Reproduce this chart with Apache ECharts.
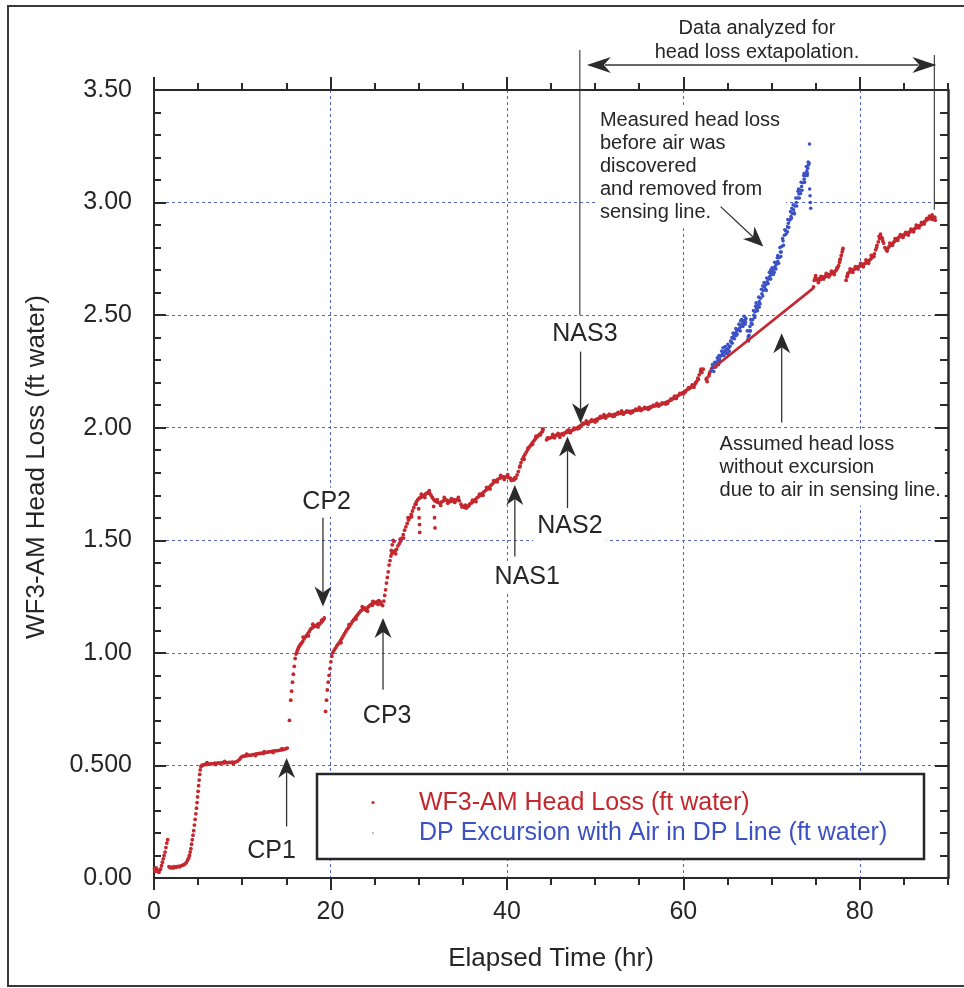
<!DOCTYPE html>
<html>
<head>
<meta charset="utf-8">
<script src="https://cdn.jsdelivr.net/npm/echarts@6/dist/echarts.min.js"></script>
<style>
  html, body { margin: 0; padding: 0; background: #fff; }
  #chart { width: 964px; height: 988px; }
</style>
</head>
<body>
<div id="chart"></div>
<script>
// ---- Tick labels ----
const xTickLabels = ['0', '20', '40', '60', '80'];
const yTickLabels = ['0.00', '0.500', '1.00', '1.50', '2.00', '2.50', '3.00', '3.50'];

// ---- WF3-AM head loss [elapsed hr, ft water], logged segments ----
const wf3Startup = [
  [0.05,0.04],[0.15,0.03],[0.25,0.045],[0.35,0.035],[0.45,0.03],[0.55,0.025],[0.65,0.035],[0.75,0.04],
  [0.85,0.055],[0.95,0.07],[1.05,0.085],[1.15,0.1],[1.25,0.115],[1.35,0.135],[1.45,0.155],[1.55,0.17],
  [1.7,0.05],[1.85,0.045],[2.0,0.048],[2.15,0.044],[2.3,0.05],[2.45,0.047],[2.6,0.05],[2.75,0.052],
  [2.9,0.05],[3.05,0.054],[3.2,0.056],[3.35,0.058],[3.5,0.062],[3.65,0.068],[3.8,0.078],[3.92,0.088],
  [4.02,0.1],[4.1,0.115],[4.18,0.13],[4.26,0.15],[4.34,0.17],[4.42,0.19],[4.5,0.21],[4.58,0.235],
  [4.66,0.26],[4.74,0.285],[4.82,0.31],[4.88,0.335],[4.94,0.36],[5.0,0.385],[5.06,0.41],[5.12,0.435],
  [5.18,0.46],[5.24,0.48],[5.32,0.495],[5.42,0.5]
];
const wf3Cp1 = [
  [5.5,0.5],[5.65,0.503],[5.8,0.505],[5.95,0.504],[6.1,0.507],[6.3,0.506],[6.5,0.508],[6.7,0.507],
  [6.9,0.51],[7.1,0.509],[7.3,0.511],[7.5,0.51],[7.7,0.512],[7.9,0.511],[8.1,0.513],[8.3,0.512],
  [8.5,0.514],[8.7,0.513],[8.9,0.515],[9.1,0.514],[9.3,0.516],[9.5,0.52],[9.7,0.527],[9.85,0.535],
  [10.0,0.54],[10.2,0.541],[10.4,0.543],[10.6,0.544],[10.8,0.546],[11.0,0.545],[11.2,0.548],[11.4,0.549],
  [11.6,0.551],[11.8,0.552],[12.0,0.553],[12.2,0.555],[12.4,0.554],[12.6,0.557],[12.8,0.558],[13.0,0.56],
  [13.2,0.561],[13.4,0.562],[13.6,0.564],[13.8,0.565],[14.0,0.566],[14.2,0.567],[14.4,0.569],[14.6,0.57],
  [14.8,0.572],[15.0,0.575],[15.1,0.577],
  [6.0,0.512],[7.0,0.504],[8.0,0.518],[9.0,0.509],[10.5,0.55],[11.5,0.544],[12.5,0.561],[13.5,0.557],[14.5,0.575]
];
const wf3Cp2 = [
  [15.35,0.70],[15.5,0.79],[15.6,0.83],[15.7,0.87],[15.8,0.905],[15.9,0.94],[16.0,0.975],[16.1,0.995],
  [16.2,1.005],[16.3,1.015],[16.4,1.025],[16.5,1.03],[16.6,1.038],[16.7,1.042],[16.85,1.05],[17.0,1.062],
  [17.15,1.07],[17.3,1.078],[17.45,1.085],[17.6,1.095],[17.75,1.105],[17.9,1.11],[18.05,1.115],[18.2,1.12],
  [18.35,1.118],[18.5,1.125],[18.65,1.13],[18.8,1.128],[18.95,1.135],[19.1,1.142],[19.2,1.148],[19.3,1.155],
  [16.9,1.07],[17.5,1.075],[18.0,1.127],[18.6,1.115],[19.0,1.145]
];
const wf3Cp3 = [
  [19.45,0.74],[19.55,0.79],[19.65,0.835],[19.75,0.87],[19.85,0.9],[19.95,0.93],[20.05,0.96],[20.15,0.985],
  [20.25,1.0],[20.4,1.01],[20.55,1.02],[20.7,1.03],[20.85,1.038],[21.0,1.045],[21.15,1.055],[21.3,1.065],
  [21.45,1.075],[21.6,1.085],[21.75,1.095],[21.9,1.105],[22.05,1.112],[22.2,1.12],[22.35,1.13],[22.5,1.14],
  [22.65,1.148],[22.8,1.155],[22.95,1.163],[23.1,1.17],[23.25,1.178],[23.4,1.185],[23.55,1.19],[23.7,1.196],
  [23.85,1.2],[24.0,1.19],[24.15,1.198],[24.3,1.205],[24.45,1.21],[24.6,1.215],[24.75,1.212],[24.9,1.22],
  [25.05,1.225],[25.2,1.222],[25.35,1.228],[25.5,1.232],[25.65,1.226],[25.8,1.215],[25.92,1.21],
  [21.2,1.045],[22.1,1.125],[22.9,1.15],[23.6,1.205],[24.2,1.185],[24.8,1.228],[25.4,1.215]
];
const wf3Nas = [
  [26.05,1.23],[26.15,1.255],[26.25,1.28],[26.35,1.31],[26.45,1.335],[26.55,1.36],[26.65,1.39],[26.75,1.41],
  [26.85,1.43],[26.95,1.44],[27.05,1.445],[27.2,1.45],[27.35,1.455],[27.5,1.46],[27.65,1.475],[27.8,1.485],
  [27.95,1.495],[28.1,1.51],[28.25,1.525],[28.4,1.545],[28.55,1.56],[28.7,1.575],[28.85,1.59],[29.0,1.6],
  [29.15,1.615],[29.3,1.63],[29.45,1.645],[29.6,1.66],[29.75,1.672],[29.9,1.68],[30.05,1.687],[30.2,1.69],
  [30.35,1.693],[30.5,1.697],[30.65,1.7],[30.8,1.706],[30.95,1.71],[31.1,1.712],[31.25,1.708],[31.4,1.7],
  [31.55,1.69],[31.7,1.682],[31.85,1.675],[32.0,1.672],[32.2,1.668],[32.4,1.665],[32.6,1.67],[32.8,1.675],
  [33.0,1.68],[33.2,1.678],[33.4,1.675],[33.6,1.672],[33.8,1.675],[34.0,1.68],[34.2,1.678],[34.4,1.68],
  [34.6,1.676],[34.8,1.66],[35.0,1.652],[35.2,1.646],[35.4,1.643],[35.6,1.65],[35.8,1.662],[36.0,1.666],
  [36.2,1.672],[36.4,1.68],[36.6,1.688],[36.8,1.694],[37.0,1.7],[37.2,1.708],[37.4,1.715],[37.6,1.722],
  [37.8,1.728],[38.0,1.736],[38.2,1.745],[38.4,1.752],[38.6,1.76],[38.8,1.766],[39.0,1.772],[39.2,1.776],
  [39.4,1.779],[39.6,1.781],[39.8,1.78],[40.0,1.783],[40.2,1.778],[40.4,1.776],[40.6,1.77],[40.8,1.768],
  [41.0,1.775],[41.15,1.79],[41.3,1.805],[41.45,1.825],[41.6,1.845],[41.75,1.86],[41.9,1.872],[42.05,1.882],
  [42.2,1.892],[42.35,1.902],[42.5,1.912],[42.65,1.92],[42.8,1.928],[42.95,1.936],[43.1,1.944],[43.25,1.952],
  [43.4,1.958],[43.55,1.965],[43.7,1.97],[43.85,1.976],[44.0,1.982],[44.1,1.99],
  [27.0,1.48],[27.1,1.5],[27.2,1.495],[30.0,1.64],[30.05,1.6],[30.1,1.57],[30.12,1.535],
  [31.7,1.65],[31.8,1.6],[31.85,1.555],
  [26.9,1.455],[27.4,1.44],[27.9,1.505],[28.3,1.51],[28.8,1.6],[29.2,1.605],[29.7,1.66],[30.3,1.705],
  [30.7,1.69],[31.2,1.72],[32.1,1.68],[32.5,1.655],[32.9,1.69],[33.3,1.665],[33.7,1.685],[34.1,1.668],
  [34.5,1.69],[34.9,1.648],[35.3,1.656],[35.7,1.655],[36.1,1.678],[36.5,1.672],[36.9,1.705],[37.3,1.7],
  [37.7,1.735],[38.1,1.728],[38.5,1.765],[38.9,1.76],[39.3,1.788],[39.7,1.77],[40.1,1.792],[40.5,1.766],
  [40.9,1.778],[41.5,1.83],[41.95,1.86],[42.4,1.91],[42.9,1.925],[43.3,1.962],[43.8,1.968],[44.05,1.995]
];
const wf3Late = [
  [44.5,1.946],[44.7,1.952],[44.9,1.955],[45.1,1.958],[45.3,1.962],[45.5,1.965],[45.7,1.968],[45.9,1.966],
  [46.1,1.97],[46.3,1.974],[46.5,1.976],[46.7,1.978],[46.9,1.98],[47.1,1.983],[47.3,1.987],[47.5,1.99],
  [47.7,1.994],[47.9,1.998],[48.1,2.003],[48.3,2.008],[48.5,2.012],[48.7,2.016],[48.9,2.02],[49.1,2.022],
  [49.3,2.025],[49.5,2.028],[49.7,2.03],[49.9,2.033],[50.1,2.036],[50.3,2.04],[50.5,2.042],[50.7,2.045],
  [50.9,2.047],[51.1,2.05],[51.3,2.051],[51.5,2.053],[51.7,2.055],[51.9,2.056],[52.1,2.058],[52.3,2.06],
  [52.5,2.061],[52.7,2.063],[52.9,2.064],[53.1,2.066],[53.3,2.067],[53.5,2.069],[53.7,2.07],[53.9,2.072],
  [54.1,2.073],[54.3,2.075],[54.5,2.076],[54.7,2.078],[54.9,2.079],[55.1,2.081],[55.3,2.082],[55.5,2.084],
  [55.7,2.086],[55.9,2.088],[56.1,2.09],[56.3,2.092],[56.5,2.094],[56.7,2.096],[56.9,2.098],[57.1,2.1],
  [57.3,2.102],[57.5,2.104],[57.7,2.107],[57.9,2.11],[58.1,2.113],[58.3,2.117],[58.5,2.121],[58.7,2.125],
  [58.9,2.13],[59.1,2.135],[59.3,2.14],[59.5,2.145],[59.7,2.15],[59.9,2.155],[60.1,2.16],[60.3,2.165],
  [60.5,2.17],[60.7,2.175],[60.9,2.18],[61.1,2.185],[61.3,2.192],[61.5,2.205],[61.65,2.22],[61.8,2.235],
  [61.95,2.25],[62.1,2.245],[62.25,2.26],[62.6,2.215],[62.7,2.205],[62.9,2.23],[63.05,2.25],[63.2,2.262],
  [45.2,1.97],[46.0,1.958],[47.0,1.99],[48.0,1.995],[49.0,2.03],[50.0,2.025],[51.0,2.058],[52.0,2.05],
  [53.0,2.075],[54.0,2.065],[55.0,2.09],[56.0,2.082],[57.0,2.108],[58.0,2.105],[59.0,2.14],[60.0,2.15],
  [61.0,2.19],
  [44.6,1.955],[45.4,1.955],[45.8,1.975],[46.4,1.968],[46.8,1.985],[47.2,1.978],[47.6,1.998],[48.2,1.998],
  [48.6,2.02],[49.2,2.015],[49.6,2.035],[50.2,2.03],[50.6,2.05],[51.2,2.043],[51.6,2.06],[52.2,2.052],
  [52.6,2.068],[53.2,2.06],[53.6,2.075],[54.2,2.068],[54.6,2.083],[55.2,2.076],[55.6,2.09],[56.2,2.086],
  [56.6,2.1],[57.2,2.096],[57.6,2.11],[58.2,2.108],[58.6,2.128],[59.2,2.13],[59.6,2.152],[60.2,2.158],
  [60.6,2.178],[61.2,2.18],[61.4,2.2],[61.7,2.215],[62.0,2.26],[62.65,2.22],[62.95,2.24]
];
const wf3Final = [
  [74.75,2.625],[74.85,2.655],[74.95,2.665],[75.1,2.66],[75.25,2.655],[75.4,2.662],[75.55,2.658],[75.7,2.665],
  [75.85,2.67],[76.0,2.668],[76.15,2.675],[76.3,2.672],[76.45,2.68],[76.6,2.678],[76.75,2.685],[76.9,2.69],
  [77.05,2.688],[77.2,2.695],[77.35,2.7],[77.5,2.71],[77.6,2.72],[77.7,2.735],[77.8,2.75],[77.9,2.765],
  [78.0,2.78],[78.1,2.797],
  [78.45,2.655],[78.55,2.67],[78.65,2.685],[78.8,2.69],[78.95,2.695],[79.1,2.7],[79.25,2.702],[79.4,2.705],
  [79.55,2.708],[79.7,2.712],[79.85,2.715],[80.0,2.718],[80.15,2.72],[80.3,2.722],[80.45,2.726],[80.6,2.73],
  [80.75,2.733],[80.9,2.738],[81.05,2.742],[81.2,2.748],[81.35,2.755],[81.5,2.76],[81.65,2.772],[81.8,2.79],
  [81.95,2.81],[82.1,2.825],[82.25,2.84],[82.4,2.848],[82.55,2.842],[82.7,2.82],[82.85,2.8],[83.0,2.79],
  [83.15,2.795],[83.3,2.803],[83.45,2.81],[83.6,2.816],[83.75,2.82],[83.9,2.826],[84.05,2.832],[84.2,2.838],
  [84.35,2.843],[84.5,2.848],[84.65,2.85],[84.8,2.853],[84.95,2.855],[85.1,2.858],[85.25,2.86],[85.4,2.864],
  [85.55,2.868],[85.7,2.87],[85.85,2.874],[86.0,2.878],[86.15,2.882],[86.3,2.886],[86.45,2.89],[86.6,2.893],
  [86.75,2.897],[86.9,2.9],[87.05,2.905],[87.2,2.91],[87.35,2.915],[87.5,2.92],[87.65,2.925],[87.8,2.93],
  [87.95,2.928],[88.1,2.935],[88.25,2.925],[88.4,2.93],[88.55,2.922],
  [75.0,2.675],[75.3,2.645],[75.6,2.672],[75.9,2.66],[76.2,2.685],[76.5,2.67],[76.8,2.695],[77.1,2.68],
  [77.4,2.71],[77.75,2.745],[78.05,2.79],[78.6,2.675],[78.9,2.705],[79.2,2.69],[79.5,2.715],[79.8,2.705],
  [80.1,2.73],[80.4,2.715],[80.7,2.745],[81.0,2.73],[81.3,2.765],[81.6,2.76],[81.9,2.8],[82.2,2.85],
  [82.35,2.86],[82.6,2.83],[83.1,2.785],[83.4,2.82],[83.7,2.81],[84.0,2.84],[84.3,2.832],[84.6,2.858],
  [84.9,2.845],[85.2,2.868],[85.5,2.856],[85.8,2.882],[86.1,2.87],[86.4,2.9],[86.7,2.888],[87.0,2.912],
  [87.3,2.905],[87.6,2.93],[87.9,2.94],[88.2,2.945],[88.5,2.935]
];

// ---- DP excursion with air in the DP line [elapsed hr, ft water] ----
const dpExcursion = [
  [63.2,2.255],[63.35,2.27],[63.5,2.268],[63.65,2.285],[63.8,2.29],[63.95,2.3],[64.1,2.305],[64.25,2.318],
  [64.4,2.325],[64.55,2.335],[64.7,2.34],[64.85,2.345],[65.0,2.35],[65.15,2.355],[65.3,2.362],[65.45,2.38],
  [65.6,2.398],[65.75,2.41],[65.9,2.418],[66.05,2.428],[66.2,2.435],[66.35,2.442],[66.5,2.45],[66.65,2.46],
  [66.8,2.468],[66.95,2.478],[67.1,2.485],[67.25,2.43],[67.35,2.405],[67.45,2.41],[67.55,2.45],[67.7,2.465],
  [67.85,2.48],[68.0,2.5],[68.15,2.515],[68.3,2.53],[68.45,2.545],[68.6,2.56],[68.75,2.575],[68.9,2.595],
  [69.05,2.61],[69.2,2.625],[69.35,2.635],[69.5,2.648],[69.65,2.66],[69.8,2.671],[69.95,2.682],[70.1,2.694],
  [70.25,2.705],[70.4,2.716],[70.55,2.726],[70.7,2.738],[70.85,2.755],[71.0,2.78],[71.15,2.805],[71.3,2.83],
  [71.45,2.855],[71.6,2.875],[71.75,2.892],[71.9,2.908],[72.05,2.922],[72.2,2.938],[72.35,2.952],[72.5,2.968],
  [72.65,2.985],[72.8,3.0],[72.95,3.02],[73.1,3.038],[73.25,3.055],[73.4,3.071],[73.55,3.088],[73.7,3.104],
  [73.85,3.12],[74.0,3.14],[74.1,3.152],[74.2,3.167],[74.3,3.26],[74.32,3.06],[74.36,3.03],[74.4,3.0],[74.44,2.975],
  [63.55,2.29],[64.0,2.28],[64.5,2.355],[65.0,2.33],[65.5,2.4],[66.0,2.41],[66.5,2.475],[67.0,2.46],
  [67.4,2.385],[67.6,2.43],[68.2,2.54],[68.6,2.535],[69.0,2.63],[69.4,2.61],[69.9,2.7],[70.3,2.69],
  [70.7,2.765],[71.1,2.78],[71.5,2.88],[71.8,2.87],[72.3,2.975],[72.6,2.95],[73.0,3.05],[73.3,3.04],
  [73.7,3.13],[74.05,3.12],[74.15,3.18],
  [63.3,2.28],[63.45,2.25],[63.7,2.27],[63.85,2.31],[64.05,2.32],[64.2,2.295],[64.35,2.34],[64.6,2.32],
  [64.75,2.36],[64.9,2.33],[65.05,2.37],[65.2,2.34],[65.35,2.385],[65.55,2.375],[65.65,2.42],[65.8,2.395],
  [65.95,2.44],[66.1,2.415],[66.3,2.46],[66.45,2.43],[66.6,2.48],[66.75,2.45],[66.9,2.495],[67.05,2.47],
  [67.3,2.39],[67.5,2.43],[67.65,2.48],[67.8,2.46],[67.95,2.52],[68.1,2.49],[68.25,2.555],[68.4,2.52],
  [68.55,2.58],[68.7,2.55],[68.85,2.615],[69.0,2.585],[69.15,2.645],[69.3,2.615],[69.45,2.665],[69.6,2.64],
  [69.75,2.69],[69.9,2.66],[70.05,2.71],[70.2,2.68],[70.35,2.735],[70.5,2.705],[70.65,2.755],[70.8,2.73],
  [70.95,2.8],[71.05,2.76],[71.25,2.84],[71.35,2.81],[71.55,2.895],[71.65,2.86],[71.85,2.925],[71.95,2.89],
  [72.15,2.96],[72.25,2.93],[72.45,2.99],[72.55,2.955],[72.75,3.02],[72.85,2.985],[73.05,3.06],[73.15,3.02],
  [73.35,3.09],[73.45,3.055],[73.65,3.12],[73.75,3.09],[73.95,3.16],[74.05,3.13],[74.25,3.175]
];

// ---- Assumed head loss without the excursion (straight segment) ----
const assumedTime = [63.4, 74.74];
const assumedLoss = [2.265, 2.62];

// ---- Annotation anchors in data units ----
// arrows: [tailX, tailY, tipX, tipY]
const noteArrows = [
  [15.03, 0.229, 15.03, 0.533],
  [19.15, 1.60, 19.15, 1.206],
  [25.96, 0.836, 25.96, 1.155],
  [40.9, 1.428, 40.9, 1.746],
  [46.87, 1.643, 46.87, 1.961],
  [48.35, 2.338, 48.35, 2.02],
  [71.15, 2.023, 71.15, 2.42],
  [64.23, 2.982, 69.06, 2.805]
];
const eventLabels = [
  ['CP1', 13.33, 0.121],
  ['CP2', 19.57, 1.669],
  ['CP3', 26.43, 0.721],
  ['NAS1', 42.31, 1.336],
  ['NAS2', 47.14, 1.561],
  ['NAS3', 48.84, 2.417]
];
const measuredNote = ['Measured head loss', 'before air was', 'discovered', 'and removed from', 'sensing line.'];
const assumedNote = ['Assumed head loss', 'without excursion', 'due to air in sensing line.'];
const rangeNote = ['Data analyzed for', 'head loss extapolation.'];
const analyzedRange = [48.27, 88.45];

const FONT = '"Liberation Sans", Arial, Helvetica, sans-serif';
const RED = '#c4282e';
const BLUE = '#3c52c4';
const AXIS = '#2a2a2a';
const GRID_BLUE = '#5566c8';
const INK = '#262626';

const chart = echarts.init(document.getElementById('chart'), null, { renderer: 'canvas' });

function xAxisDef(pos, interval, major, extra) {
  return Object.assign({
    type: 'value', position: pos, min: 0, max: 90, interval: interval,
    axisLine: { show: major, onZero: false, lineStyle: { color: AXIS, width: 2 } },
    axisTick: { show: true, inside: false, length: major ? 13 : 7, lineStyle: { color: AXIS, width: 2 } },
    axisLabel: { show: false },
    splitLine: { show: false }
  }, extra || {});
}

const option = {
  backgroundColor: '#fff',
  animation: false,
  grid: { left: 154, right: 16, top: 90, bottom: 110, containLabel: false, outerBoundsMode: 'none' },
  xAxis: [
    xAxisDef('bottom', 20, true, {
      axisTick: { show: true, inside: false, length: 12, customValues: [0, 20, 40, 60, 80],
                  lineStyle: { color: AXIS, width: 2 } },
      axisLabel: { show: true, margin: 22, fontSize: 25, fontFamily: FONT, color: INK,
                   showMaxLabel: false, formatter: v => (v % 20 === 0 && xTickLabels[v / 20]) || '' },
      splitLine: { show: true, lineStyle: { color: GRID_BLUE, width: 1, type: [3, 3] } },
      name: 'Elapsed Time (hr)', nameLocation: 'middle', nameGap: 68,
      nameTextStyle: { fontSize: 26, fontFamily: FONT, color: INK }
    }),
    xAxisDef('bottom', 5, false),
    xAxisDef('top', 20, true, {
      axisTick: { show: true, inside: false, length: 13, customValues: [0, 20, 40, 60, 80],
                  lineStyle: { color: AXIS, width: 2 } }
    }),
    xAxisDef('top', 5, false)
  ],
  yAxis: [
    {
      type: 'value', position: 'left', min: 0, max: 3.5, interval: 0.5,
      axisLine: { show: true, onZero: false, lineStyle: { color: AXIS, width: 2 } },
      axisTick: { show: true, inside: true, length: 12, lineStyle: { color: AXIS, width: 2 } },
      minorTick: { show: true, splitNumber: 5, length: 7, lineStyle: { color: AXIS, width: 2 } },
      axisLabel: { show: true, margin: 22, fontSize: 25, fontFamily: FONT, color: INK,
                   formatter: v => yTickLabels[Math.round(v / 0.5)] },
      splitLine: { show: true, lineStyle: { color: GRID_BLUE, width: 1, type: [3, 3] } }
    },
    {
      type: 'value', position: 'right', min: 0, max: 3.5, interval: 0.5,
      axisLine: { show: true, onZero: false, lineStyle: { color: AXIS, width: 2.5 } },
      axisTick: { show: true, inside: true, length: 13, lineStyle: { color: AXIS, width: 2 } },
      minorTick: { show: true, splitNumber: 5, length: 8, lineStyle: { color: AXIS, width: 2 } },
      axisLabel: { show: false },
      splitLine: { show: false }
    }
  ],
  series: [
    {
      name: 'WF3-AM Head Loss (ft water)', type: 'scatter', xAxisIndex: 0, yAxisIndex: 0,
      symbol: 'circle', symbolSize: 3.8, silent: true,
      itemStyle: { color: RED, opacity: 1 },
      data: [].concat(wf3Startup, wf3Cp1, wf3Cp2, wf3Cp3, wf3Nas, wf3Late, wf3Final)
    },
    {
      name: 'DP Excursion with Air in DP Line (ft water)', type: 'scatter', xAxisIndex: 0, yAxisIndex: 0,
      symbol: 'circle', symbolSize: 3.6, silent: true,
      itemStyle: { color: BLUE, opacity: 1 },
      data: dpExcursion
    },
    {
      name: 'Assumed head loss', type: 'line', xAxisIndex: 0, yAxisIndex: 0,
      showSymbol: false, silent: true, z: 3,
      lineStyle: { color: RED, width: 2.6 },
      data: assumedTime.map((t, i) => [t, assumedLoss[i]])
    }
  ]
};

chart.setOption(option);

// ---- Annotations positioned from data coordinates ----
const toPx = (x, y) => chart.convertToPixel({ xAxisIndex: 0, yAxisIndex: 0 }, [x, y]);

function arrowHead(tip, from, len, half, notch) {
  const dx = tip[0] - from[0], dy = tip[1] - from[1];
  const d = Math.hypot(dx, dy), ux = dx / d, uy = dy / d, nx = -uy, ny = ux;
  const bx = tip[0] - ux * len, by = tip[1] - uy * len;
  return [
    [tip[0], tip[1]],
    [bx + nx * half, by + ny * half],
    [tip[0] - ux * (len - notch), tip[1] - uy * (len - notch)],
    [bx - nx * half, by - ny * half]
  ];
}

const g = [];
const LINE_STYLE = { stroke: '#333', lineWidth: 1.3 };

function addArrow(from, tip, len, half, notch, z) {
  const inner = arrowHead(tip, from, len, half, notch)[2];
  g.push({ type: 'line', z: z || 20, silent: true,
           shape: { x1: from[0], y1: from[1], x2: inner[0], y2: inner[1] }, style: LINE_STYLE });
  g.push({ type: 'polygon', z: z || 20, silent: true,
           shape: { points: arrowHead(tip, from, len, half, notch) }, style: { fill: '#2a2a2a' } });
}

// outer frame
g.push({ type: 'rect', z: 1, silent: true, shape: { x: 8, y: 6, width: 1000, height: 980 },
         style: { fill: 'none', stroke: '#3a3a3a', lineWidth: 2 } });

noteArrows.forEach(a => addArrow(toPx(a[0], a[1]), toPx(a[2], a[3]), 20, 8.5, 6));

eventLabels.forEach(l => {
  const p = toPx(l[1], l[2]);
  g.push({ type: 'text', z: 15, silent: true, x: p[0], y: p[1],
           style: { text: l[0], font: '25px ' + FONT, fill: INK, align: 'center', verticalAlign: 'middle',
                    backgroundColor: '#fff', padding: [2, 4] } });
});

// note blocks (white-backed, left aligned)
const mAnchor = toPx(50.09, 3.426);
g.push({ type: 'text', z: 15, silent: true, x: mAnchor[0], y: mAnchor[1],
         style: { text: measuredNote.join('\n'), font: '20px ' + FONT, fill: INK, lineHeight: 23.1,
                  align: 'left', verticalAlign: 'top', backgroundColor: '#fff', padding: [2, 6, 4, 4] } });
const aAnchor = toPx(63.66, 1.987);
g.push({ type: 'text', z: 15, silent: true, x: aAnchor[0], y: aAnchor[1],
         style: { text: assumedNote.join('\n'), font: '20px ' + FONT, fill: INK, lineHeight: 23,
                  align: 'left', verticalAlign: 'top', backgroundColor: '#fff', padding: [2, 4, 4, 4] } });

// analyzed range bracket above the plot
const rl = toPx(analyzedRange[0], 2.5);
const rr = toPx(analyzedRange[1], 2.968);
g.push({ type: 'line', z: 20, silent: true, shape: { x1: rl[0], y1: 50, x2: rl[0], y2: rl[1] },
         style: { stroke: '#333', lineWidth: 1.1 } });
g.push({ type: 'line', z: 20, silent: true, shape: { x1: rr[0], y1: 55, x2: rr[0], y2: rr[1] },
         style: { stroke: '#333', lineWidth: 1.1 } });
const arrowY = 65;
const leftTip = [rl[0] + 7, arrowY], rightTip = [rr[0] + 2, arrowY];
g.push({ type: 'line', z: 20, silent: true,
         shape: { x1: leftTip[0] + 18, y1: arrowY, x2: rightTip[0] - 18, y2: arrowY }, style: LINE_STYLE });
g.push({ type: 'polygon', z: 20, silent: true, shape: { points: arrowHead(leftTip, rightTip, 24, 8, 7) },
         style: { fill: '#2a2a2a' } });
g.push({ type: 'polygon', z: 20, silent: true, shape: { points: arrowHead(rightTip, leftTip, 24, 8, 7) },
         style: { fill: '#2a2a2a' } });
const rc = toPx(68.35, 0);
g.push({ type: 'text', z: 20, silent: true, x: rc[0], y: 17,
         style: { text: rangeNote.join('\n'), font: '20px ' + FONT, fill: INK, lineHeight: 23.4,
                  align: 'center', verticalAlign: 'top' } });

// legend box
g.push({ type: 'rect', z: 15, silent: true, shape: { x: 317, y: 774, width: 607, height: 85 },
         style: { fill: '#fff', stroke: '#262626', lineWidth: 2.5 } });
g.push({ type: 'circle', z: 16, silent: true, shape: { cx: 373, cy: 802.5, r: 1.6 }, style: { fill: RED } });
g.push({ type: 'circle', z: 16, silent: true, shape: { cx: 373, cy: 833, r: 1.2 }, style: { fill: '#b8bfe0' } });
g.push({ type: 'text', z: 16, silent: true, x: 419, y: 803,
         style: { text: option.series[0].name, font: '25px ' + FONT, fill: RED, align: 'left', verticalAlign: 'middle' } });
g.push({ type: 'text', z: 16, silent: true, x: 419, y: 833.5,
         style: { text: option.series[1].name, font: '25px ' + FONT, fill: BLUE, align: 'left', verticalAlign: 'middle' } });

// y-axis title
g.push({ type: 'text', z: 20, silent: true, x: 37, y: 467, rotation: Math.PI / 2,
         style: { text: 'WF3-AM Head Loss (ft water)', font: '26px ' + FONT, fill: INK,
                  align: 'center', verticalAlign: 'middle' } });

chart.setOption({ graphic: g });
</script>
</body>
</html>
